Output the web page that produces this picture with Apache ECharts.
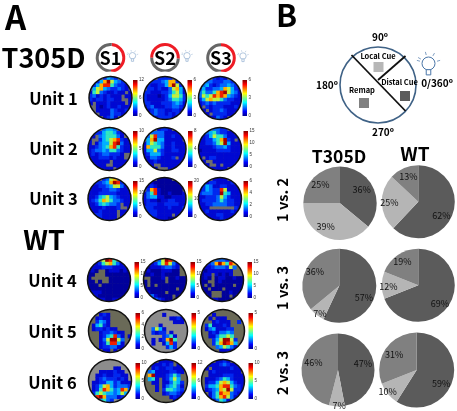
<!DOCTYPE html>
<html>
<head>
<meta charset="UTF-8">
<title>T305D / WT place maps</title>
<script src="https://cdn.jsdelivr.net/npm/echarts@6/dist/echarts.min.js"></script>
<style>
  html, body { margin:0; padding:0; background:#fff; }
  #chart { width:457px; height:411px; filter:blur(0.7px); }
</style>
</head>
<body>
<div id="chart"></div>
<script>
// 饼图数据：每组依次为 Distal Cue / Local Cue / Remap
var groupNames = ['T305D', 'WT'];
var compareNames = ['1 vs. 2', '1 vs. 3', '2 vs. 3'];
var cueNames = ['Distal Cue', 'Local Cue', 'Remap'];
var t305dShares = [[36, 39, 25], [57, 7, 36], [47, 7, 46]];
var wtShares = [[62, 25, 13], [69, 12, 19], [59, 10, 31]];

// 灯光 session 环：红色部分占比
var sessionNames = ['S1', 'S2', 'S3'];
var sessionRed = [48, 51, 50];

// 发放率图：12x12，0-9 为颜色等级，'.' 为未访问
var unitNames = ['Unit 1', 'Unit 2', 'Unit 3', 'Unit 4', 'Unit 5', 'Unit 6'];
var unit1 = [
  ['....2432....','..24796432..','.2478853221.','.4674322321.','1563211211.1','231212111.11','212212211..1','1.11121111.1','..1012112111','..1111321121','...11132211.','....1231....'],
  ['....2222....','..22234772..','.2112247962.','.22121136741','221112235641','211101246652','211111235542','221112223431','123111223321','.12322112211','..232212121.','...1222211..'],
  ['....2121....','..33222332..','.3421233432.','242233476421','353357896431','365687874321','246766532211','123232222111','1.2122211121','.1.122321111','..1.222211..','...11321....']
];
var unit2 = [
  ['....3443....','..22455421..','.1.3455531..','1..245678211','1.1344689311','112345785211','123343553211','1212332221..','1112221211..','.11111.1111.','..111..111..','...1111.1...'],
  ['....1221....','..33331111..','.3683311211.','.4794411111.','146543112111','175553112111','144632112211','124442111111','113321112.11','.11211111111','..1..11111..','...1...11...'],
  ['....3322....','..34532211..','.1246553111.','1122457921.1','112235694111','111123342111','011112222111','111111111111','1.1221111111','.1..11111111','..1..1.111..','...11111....']
];
var unit3 = [
  ['....2367....','..22347982..','.1122346631.','111122332111','111222221111','112456432111','123576533211','112454332.11','111121112..1','.1121111.111','..221111.1..','...21111....'],
  ['....0000....','..10000000..','.1210000000.','.2781000000.','135810010001','134411001111','121101122111','122211222211','222111121112','.22211111111','..221111.1..','...111100...'],
  ['....1111....','..12211112..','.2431122111.','124322861111','233322954111','112223642111','122223532211','112233332211','111.......21','.12111111211','..111221111.','...111211...']
];
var unit4 = [
  ['....6985....','..12567531..','.1112221111.','010..0111010','00...0000000','0.....000000','00.0..000000','000.00000000','000000000000','.1110000000.','..100000000.','...110011...'],
  ['....3698....','..12468631..','.011123321..','0100011100..','0010010000..','..0001.00100','0.0000.00000','0.0.00000000','000000000.00','.10000.0000.','..310000.0..','...32100....'],
  ['....3332....','..23797587..','.112333263..','101111111...','011.10101...','010.01100100','00..01000000','0.0.00000.00','00.000.00000','.00...00100.','..0...00.0..','...110000...']
];
var unit5 = [
  ['............','...121......','..1211......','..2431......','.14521......','.1221211....','...1223211..','...1245831.1','...1369963..','...1258841..','...1223311..','....11.1....'],
  ['............','.....1......','.......1121.','........111.','....1.......','..3641......','..2122.1....','.....2351...','..1.12795...','..1..1482...','......242...','............'],
  ['............','...1........','..1.111.....','...12111..2.','.2511121....','.13411122...','..1213343...','..1135565...','...2469962..','...2579874..','....346531..','.....1111...']
];
var unit6 = [
  ['............','............','.......11...','...1111211..','..112112211.','..123222121.','.11224423111','.12467423332','.12587534873','.25654434641','.489733312..','...4532.....'],
  ['....1111....','..111212.1..','..121122111.','.3411112211.','.791112353..','.451.12464..','..11.113542.','...1.134531.','...1.255432.','.....123321.','.......1211.','........1...'],
  ['....1121....','..11123211..','.1.11111211.','..121111111.','..1111222111','.11123542111','.12246764211','.24457885321','.12347696221','..1358773211','..13578631..','...13541....']
];
var unitMaps = [unit1, unit2, unit3, unit4, unit5, unit6];

// 色条上限和刻度间隔
var colorbarMax = [[12, 6, 6], [10, 8, 15], [15, 20, 6], [15, 15, 15], [6, 5, 5], [10, 12, 10]];
var colorbarStep = [[6, 3, 3], [5, 4, 5], [5, 10, 2], [5, 5, 5], [2, 5, 5], [5, 6, 5]];

// 以下为版面
var heatColors = ['#00009c', '#0008d2', '#0028f0', '#0068ff', '#00b0ff', '#30e8c0', '#c0f040', '#ffb000', '#f02000', '#a00000'];
var barColors = ['#00008f', '#0000ff', '#0080ff', '#00ffff', '#80ff80', '#ffff00', '#ff8000', '#ff0000', '#800000'];
var rowCy = [98, 149, 199, 280, 331, 381];
var rowCx = [
  [110.5, 165, 220], [109.5, 164.5, 220], [109.5, 164.5, 220],
  [109, 165, 222], [110, 166, 223], [110, 166, 223]
];
var labelCy = [99, 149, 199, 281, 332, 383];
var barOffset = [23, 24, 24, 26, 26, 26];
var mapR = 21.5;
var olive = '#6a6a58', grey = '#6d6d6d', light = '#8c8c8c';
var mapBack = [
  [grey, grey, grey], [grey, grey, grey], [grey, grey, grey],
  [olive, olive, olive], [olive, light, olive], [light, olive, olive]
];
var FONT = '"Noto Sans CJK KR", "Noto Sans", sans-serif';

var grids = [], xAxes = [], yAxes = [], series = [], graphics = [], heatIndex = [];
var cellIds = [0, 1, 2, 3, 4, 5, 6, 7, 8, 9, 10, 11];

function addText(text, x, y, size, opt) {
  opt = opt || {};
  graphics.push({
    type: 'text', x: x, y: y, rotation: opt.rotation || 0, z: 20,
    style: {
      text: text, fontFamily: FONT, fontSize: size, fontWeight: opt.weight || 'bold',
      fill: opt.color || '#000', align: 'center', verticalAlign: 'middle'
    }
  });
}

function addBulb(x, y, r, color, lw) {
  var children = [{ type: 'circle', shape: { cx: 0, cy: 0, r: r }, style: { fill: '#fff', stroke: color, lineWidth: lw } }];
  [-150, -105, -60, -15, 195].forEach(function (a) {
    var c = Math.cos(a * Math.PI / 180), s = Math.sin(a * Math.PI / 180);
    children.push({
      type: 'line',
      shape: { x1: c * r * 1.35, y1: s * r * 1.35, x2: c * r * 1.85, y2: s * r * 1.85 },
      style: { stroke: color, lineWidth: lw * 0.7 }
    });
  });
  children.push({
    type: 'rect', shape: { x: -r * 0.35, y: r * 0.95, width: r * 0.7, height: r * 0.8 },
    style: { fill: '#fff', stroke: color, lineWidth: lw }
  });
  graphics.push({ type: 'group', x: x, y: y, z: 20, children: children });
}

// 发放率图和色条
unitMaps.forEach(function (maps, row) {
  addText(unitNames[row], row < 3 ? 53.5 : 52.5, labelCy[row], 16.5);
  maps.forEach(function (rows, col) {
    var cx = rowCx[row][col], cy = rowCy[row];
    var cells = [];
    rows.forEach(function (str, r) {
      for (var c = 0; c < str.length; c++) {
        if (str[c] !== '.') cells.push([c, r, Number(str[c])]);
      }
    });
    var g = grids.length;
    grids.push({ left: cx - mapR, top: cy - mapR, width: mapR * 2, height: mapR * 2 });
    xAxes.push({ type: 'category', gridIndex: g, data: cellIds, show: false });
    yAxes.push({ type: 'category', gridIndex: g, data: cellIds, inverse: true, show: false });
    heatIndex.push(series.length);
    series.push({
      type: 'heatmap', xAxisIndex: g, yAxisIndex: g, data: cells, silent: true,
      emphasis: { disabled: true }, progressive: 0, z: 2
    });
    graphics.push({ type: 'circle', z: 0, silent: true, shape: { cx: cx, cy: cy, r: mapR }, style: { fill: mapBack[row][col] } });
    graphics.push({ type: 'ring', z: 5, silent: true, shape: { cx: cx, cy: cy, r: mapR + 5, r0: mapR }, style: { fill: '#fff' } });
    graphics.push({ type: 'circle', z: 6, silent: true, shape: { cx: cx, cy: cy, r: mapR }, style: { fill: 'none', stroke: '#111', lineWidth: 1.5 } });

    // 色条
    var b = grids.length;
    grids.push({ left: cx + barOffset[row] - 0.5, top: cy - 18, width: 4.5, height: 36 });
    xAxes.push({ type: 'category', gridIndex: b, data: [''], show: false });
    yAxes.push({
      type: 'value', gridIndex: b, position: 'right', z: 10,
      min: 0, max: colorbarMax[row][col], interval: colorbarStep[row][col],
      axisLine: { show: false }, axisTick: { show: false }, splitLine: { show: false },
      axisLabel: { fontSize: 4.5, color: '#333', margin: 1.5, fontFamily: 'Liberation Sans' }
    });
    series.push({
      type: 'bar', xAxisIndex: b, yAxisIndex: b, data: [colorbarMax[row][col]],
      barWidth: '100%', silent: true, z: 10,
      itemStyle: {
        color: new echarts.graphic.LinearGradient(0, 1, 0, 0, barColors.map(function (c, i) {
          return { offset: i / (barColors.length - 1), color: c };
        }))
      }
    });
  });
});

// 饼图
var pieCenters = [
  [[340, 203.3], [418.3, 201.7]],
  [[339.3, 285.7], [418.3, 285.3]],
  [[338, 370], [416.7, 370]]
];
var pieRadius = [[36.7, 36.5], [37, 36.5], [36.5, 37.5]];
var pieColors = ['#5b5b5b', '#b5b5b5', '#808080'];
var labelShift = [
  [[-1, -3], [-6, 0], [-2, -1]], [[0, 5], [-4, 0], [0, -2]],
  [[0, 6.5], [-4, 7.5], [-1.5, -3]], [[1, 4], [-5, 1], [-2, -3]],
  [[0, -4.5], [2, 10.5], [0, -4]], [[0, 6.5], [-9.4, 5.7], [-1.5, -1.5]]
];
[t305dShares, wtShares].forEach(function (shares, g) {
  shares.forEach(function (values, r) {
    var data = values.map(function (v, i) { return { name: cueNames[i], value: v }; });
    var center = pieCenters[r][g], rad = pieRadius[r][g];
    var shift = labelShift[r * 2 + g];
    series.push({
      type: 'pie', center: center, radius: [0, rad], data: data, silent: true,
      startAngle: 90, animation: false, label: { show: false }, labelLine: { show: false },
      itemStyle: { color: function (p) { return pieColors[p.dataIndex]; } },
      emphasis: { disabled: true }
    });
    // 透明的一层只放百分比文字，让文字离圆心远一点
    series.push({
      type: 'pie', center: center, radius: [rad * 0.2, rad], data: data, silent: true,
      startAngle: 90, animation: false, z: 3, labelLine: { show: false },
      itemStyle: { color: 'rgba(0,0,0,0)' },
      label: { show: true, position: 'inside', formatter: '{c}%', fontSize: 9, color: '#111', fontFamily: FONT },
      labelLayout: function (p) { return { dx: shift[p.dataIndex][0], dy: shift[p.dataIndex][1] }; },
      emphasis: { disabled: true }
    });
  });
});

// session 环
var ringCenters = [[110.5, 57.7], [165, 57.7], [221, 58]];
var ringStart = [85, 180, 90];
sessionNames.forEach(function (s, i) {
  series.push({
    type: 'pie', center: ringCenters[i], radius: [11.8, 14.8], startAngle: ringStart[i],
    data: [{ name: s, value: sessionRed[i] }, { name: '', value: 100 - sessionRed[i] }],
    silent: true, animation: false, label: { show: false }, labelLine: { show: false },
    itemStyle: { color: function (p) { return ['#ee1c25', '#666666'][p.dataIndex]; } },
    emphasis: { disabled: true }
  });
  addText(s, ringCenters[i][0], ringCenters[i][1], 18);
  addBulb(ringCenters[i][0] + 22, ringCenters[i][1] - 2, 3.2, '#a8c0da', 0.9);
});

// 大标题
addText('A', 15.5, 17, 33);
addText('T305D', 43.5, 58, 27);
addText('WT', 44, 240, 27);
addText('B', 286.5, 15, 31);
addText(groupNames[0], 339, 156, 17.5);
addText(groupNames[1], 415, 154, 19);
compareNames.forEach(function (n, i) {
  addText(n, 282, [200, 288, 373][i], 14.5, { rotation: Math.PI / 2 });
});

// B 的示意圆
graphics.push({ type: 'circle', z: 10, shape: { cx: 378, cy: 85, r: 38 }, style: { fill: '#fff', stroke: '#3f6286', lineWidth: 1.6 } });
graphics.push({ type: 'line', z: 11, shape: { x1: 351.5, y1: 55, x2: 405.5, y2: 111 }, style: { stroke: '#111', lineWidth: 1.8 } });
graphics.push({ type: 'line', z: 11, shape: { x1: 405.5, y1: 56, x2: 378, y2: 80 }, style: { stroke: '#111', lineWidth: 1.8 } });
graphics.push({ type: 'rect', z: 11, shape: { x: 373.5, y: 62, width: 10, height: 10 }, style: { fill: '#b7b7b7' } });
graphics.push({ type: 'rect', z: 11, shape: { x: 400, y: 91, width: 10, height: 10 }, style: { fill: '#5b5b5b' } });
graphics.push({ type: 'rect', z: 11, shape: { x: 359, y: 98, width: 10, height: 10 }, style: { fill: '#808080' } });
addText('Local Cue', 378, 56, 7.5);
addText(cueNames[0], 399.5, 82, 7.5);
addText(cueNames[2], 362, 90, 7.5);
addText('90º', 380, 37, 10);
addText('180º', 327, 85.5, 10);
addText('270º', 383, 132, 10);
addText('0/360º', 437, 83, 10);
addBulb(428.5, 63.5, 6.5, '#4a76a8', 1);

var myChart = echarts.init(document.getElementById('chart'), null, { renderer: 'canvas' });
myChart.setOption({
  animation: false,
  backgroundColor: '#fff',
  tooltip: { show: false },
  visualMap: { show: false, type: 'continuous', min: 0, max: 9, seriesIndex: heatIndex, inRange: { color: heatColors } },
  grid: grids,
  xAxis: xAxes,
  yAxis: yAxes,
  graphic: { elements: graphics },
  series: series
});
</script>
</body>
</html>
